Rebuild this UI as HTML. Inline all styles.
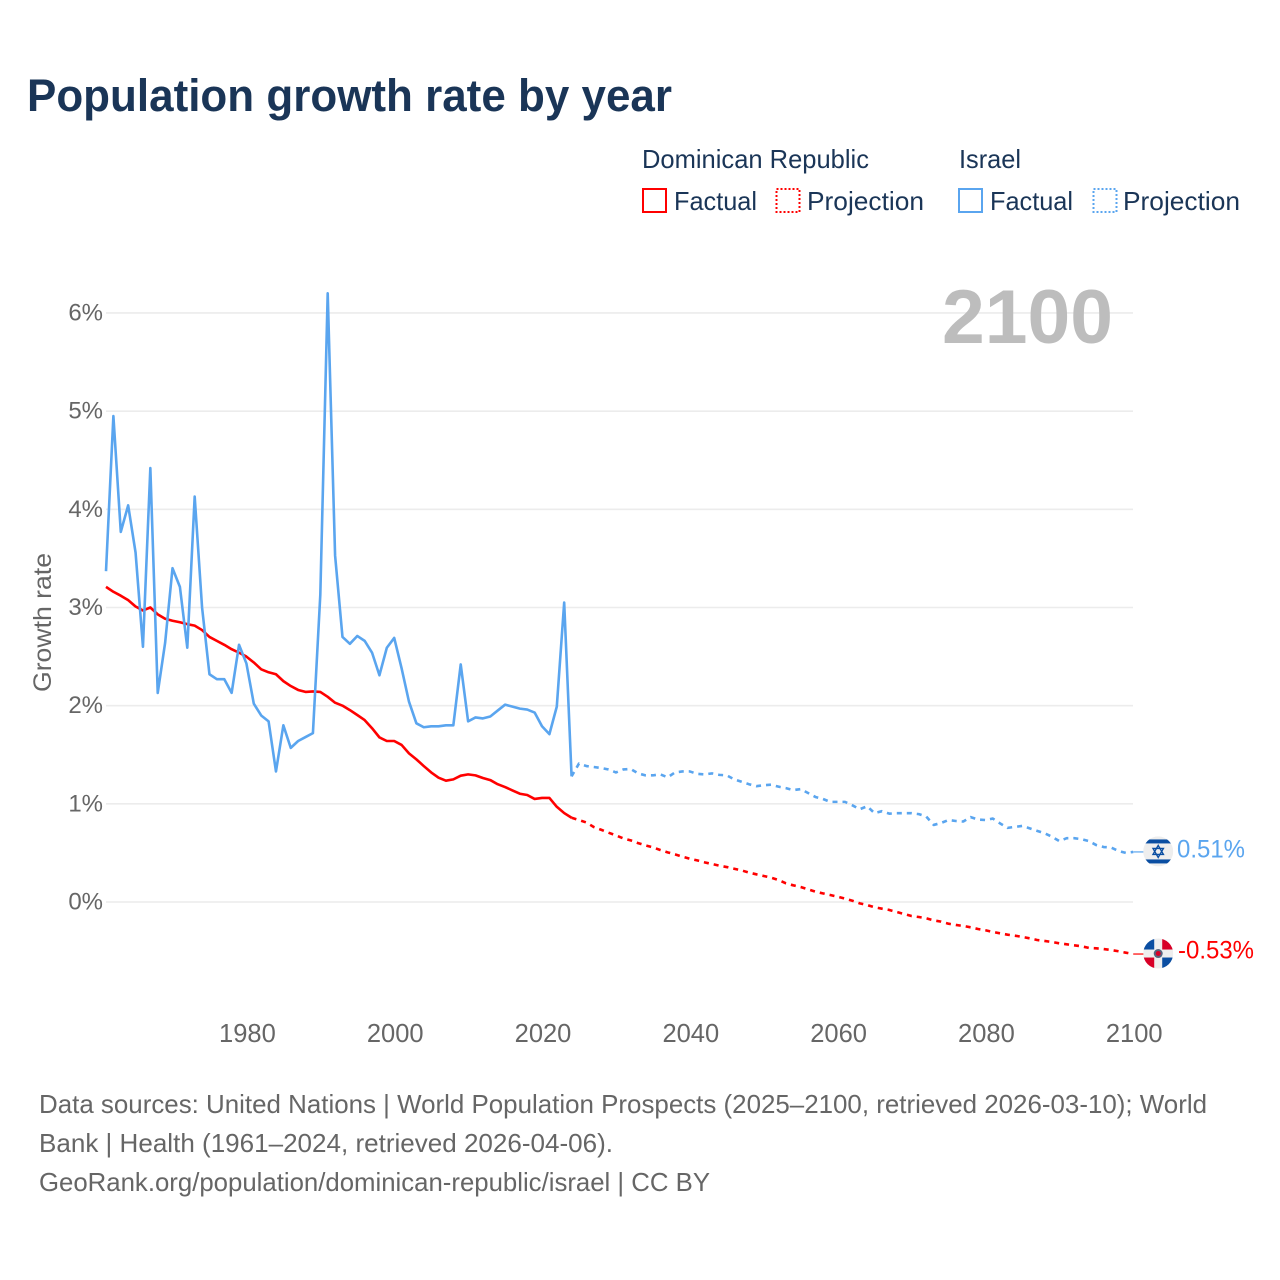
<!DOCTYPE html>
<html lang="en">
<head>
<meta charset="utf-8">
<title>Population growth rate by year</title>
<style>
html,body{margin:0;padding:0;background:#fff;width:1280px;height:1280px;overflow:hidden}
svg{display:block}
text{font-family:"Liberation Sans",sans-serif}
</style>
</head>
<body>
<svg id="chart" xmlns="http://www.w3.org/2000/svg" width="1280" height="1280" viewBox="0 0 1280 1280">
  <rect width="1280" height="1280" fill="#fff"/>
  <text x="27" y="111" font-size="45" font-weight="700" fill="#1a3557" textLength="645" lengthAdjust="spacingAndGlyphs">Population growth rate by year</text>

  <g font-size="26" fill="#1a3557">
    <text x="642" y="168" textLength="227" lengthAdjust="spacingAndGlyphs">Dominican Republic</text>
    <text x="959" y="168" textLength="62" lengthAdjust="spacingAndGlyphs">Israel</text>
    <rect x="643" y="189" width="23" height="23" fill="none" stroke="#ff0000" stroke-width="2"/>
    <text x="674" y="210" textLength="83" lengthAdjust="spacingAndGlyphs">Factual</text>
    <rect x="776.500" y="189" width="23" height="23" fill="none" stroke="#ff0000" stroke-width="2" stroke-dasharray="2 2"/>
    <text x="807" y="210" textLength="117" lengthAdjust="spacingAndGlyphs">Projection</text>
    <rect x="959" y="189" width="23" height="23" fill="none" stroke="#5aa5ef" stroke-width="2"/>
    <text x="990" y="210" textLength="83" lengthAdjust="spacingAndGlyphs">Factual</text>
    <rect x="1093.500" y="189" width="23" height="23" fill="none" stroke="#5aa5ef" stroke-width="2" stroke-dasharray="2 2"/>
    <text x="1123" y="210" textLength="117" lengthAdjust="spacingAndGlyphs">Projection</text>
  </g>

  <g id="grid"></g>
  <g id="yticks"></g>
  <g id="xticks"></g>
  <text transform="translate(51,622.500) rotate(-90)" text-anchor="middle" font-size="25" fill="#666" textLength="139" lengthAdjust="spacingAndGlyphs">Growth rate</text>
  <text x="942" y="343" font-size="76" font-weight="700" fill="#bdbdbd" textLength="171" lengthAdjust="spacingAndGlyphs">2100</text>

  <g id="series"></g>

  <defs>
    <clipPath id="flag-clip"><circle cx="0" cy="0" r="15"/></clipPath>
  </defs>
  <g id="flag-israel">
    <g clip-path="url(#flag-clip)">
      <rect x="-15" y="-15" width="30" height="30" fill="#eeeeee"/>
      <rect x="-15" y="-12" width="30" height="4" fill="#0a4ea2"/>
      <rect x="-15" y="8" width="30" height="4" fill="#0a4ea2"/>
      <polygon points="0,-6 5.200,3 -5.200,3" fill="none" stroke="#0a4ea2" stroke-width="1.400"/>
      <polygon points="0,6 5.200,-3 -5.200,-3" fill="none" stroke="#0a4ea2" stroke-width="1.400"/>
    </g>
  </g>
  <g id="flag-dr">
    <g clip-path="url(#flag-clip)">
      <rect x="-15" y="-15" width="30" height="30" fill="#eeeeee"/>
      <rect x="-15" y="-15" width="11" height="11" fill="#0a4ea2"/>
      <rect x="4" y="-15" width="11" height="11" fill="#d80027"/>
      <rect x="-15" y="4" width="11" height="11" fill="#d80027"/>
      <rect x="4" y="4" width="11" height="11" fill="#0a4ea2"/>
      <circle cx="0" cy="0" r="4.500" fill="#56647e"/>
      <circle cx="0" cy="0" r="2.500" fill="#d80027"/>
    </g>
  </g>
  <g id="end-labels"></g>

  <g font-size="26" fill="#666">
    <text x="39" y="1113" textLength="1168" lengthAdjust="spacingAndGlyphs">Data sources: United Nations | World Population Prospects (2025–2100, retrieved 2026-03-10); World</text>
    <text x="39" y="1152" textLength="574" lengthAdjust="spacingAndGlyphs">Bank | Health (1961–2024, retrieved 2026-04-06).</text>
    <text x="39" y="1191" textLength="671" lengthAdjust="spacingAndGlyphs">GeoRank.org/population/dominican-republic/israel | CC BY</text>
  </g>
</svg>
<script>
const firstFactualYear = 1961;
const firstProjectionYear = 2025;
const xTickYears = [1980, 2000, 2020, 2040, 2060, 2080, 2100];
const yTickValues = [0, 1, 2, 3, 4, 5, 6];

const israelFactual = [3.37,4.95,3.77,4.04,3.56,2.60,4.42,2.13,2.64,3.40,3.21,2.59,4.13,3.00,2.32,2.27,2.27,2.13,2.62,2.43,2.02,1.90,1.84,1.33,1.80,1.57,1.64,1.68,1.72,3.13,6.20,3.53,2.70,2.63,2.71,2.66,2.54,2.31,2.59,2.69,2.38,2.04,1.82,1.78,1.79,1.79,1.80,1.80,2.42,1.84,1.88,1.87,1.89,1.95,2.01,1.99,1.97,1.96,1.93,1.79,1.71,1.99,3.05,1.28];
const israelProjection = [1.41,1.385,1.375,1.365,1.35,1.32,1.35,1.355,1.31,1.29,1.29,1.30,1.27,1.32,1.33,1.33,1.305,1.30,1.31,1.295,1.29,1.25,1.225,1.20,1.18,1.19,1.195,1.175,1.16,1.14,1.15,1.11,1.07,1.05,1.02,1.02,1.02,0.985,0.945,0.975,0.905,0.925,0.90,0.905,0.905,0.905,0.895,0.87,0.785,0.805,0.835,0.825,0.82,0.865,0.84,0.835,0.85,0.80,0.755,0.765,0.775,0.75,0.725,0.70,0.665,0.62,0.65,0.65,0.64,0.62,0.58,0.56,0.555,0.52,0.50,0.51];
const drFactual = [3.21,3.16,3.12,3.075,3.01,2.97,3.00,2.93,2.885,2.865,2.85,2.83,2.815,2.77,2.70,2.66,2.62,2.575,2.54,2.50,2.44,2.37,2.34,2.32,2.25,2.20,2.16,2.14,2.145,2.14,2.09,2.03,2.00,1.955,1.905,1.853,1.77,1.677,1.64,1.64,1.60,1.514,1.453,1.385,1.32,1.266,1.236,1.249,1.287,1.30,1.29,1.263,1.242,1.20,1.171,1.137,1.103,1.09,1.05,1.06,1.06,0.97,0.906,0.858];
const drProjection = [0.835,0.81,0.764,0.736,0.706,0.679,0.648,0.628,0.60,0.577,0.557,0.53,0.506,0.485,0.462,0.441,0.424,0.404,0.387,0.37,0.356,0.339,0.322,0.30,0.282,0.265,0.248,0.224,0.19,0.17,0.153,0.129,0.105,0.088,0.071,0.054,0.034,0.013,-0.014,-0.031,-0.054,-0.068,-0.081,-0.102,-0.122,-0.143,-0.153,-0.166,-0.187,-0.20,-0.221,-0.234,-0.244,-0.258,-0.275,-0.288,-0.305,-0.319,-0.333,-0.343,-0.356,-0.37,-0.387,-0.397,-0.407,-0.421,-0.431,-0.441,-0.451,-0.468,-0.472,-0.479,-0.489,-0.502,-0.516,-0.53];

const SVG_NS = 'http://www.w3.org/2000/svg';
const COLOR_ISRAEL = '#5aa5ef';
const COLOR_DR = '#ff0000';

function xScale(year) { return 106 + (year - 1961) * 7.39; }
function yScale(value) { return 902 - value * 98.17; }

function make(tag, parent, attrs) {
  const el = document.createElementNS(SVG_NS, tag);
  Object.keys(attrs).forEach(function (k) { el.setAttribute(k, attrs[k]); });
  parent.appendChild(el);
  return el;
}

function pathFrom(values, startYear) {
  return values.map(function (v, i) {
    return (i ? 'L' : 'M') + xScale(startYear + i).toFixed(2) + ' ' + yScale(v).toFixed(2);
  }).join(' ');
}

const gridG = document.getElementById('grid');
const yTicksG = document.getElementById('yticks');
const xTicksG = document.getElementById('xticks');
const seriesG = document.getElementById('series');
const labelsG = document.getElementById('end-labels');

yTickValues.forEach(function (v) {
  const line = make('line', gridG, { x1: 106, x2: 1133, y1: yScale(v), y2: yScale(v), stroke: '#ececec', 'stroke-width': 1.6 });
  
  
  const t = make('text', yTicksG, { x: 103, y: yScale(v) + 7.500, 'text-anchor': 'end', 'font-size': 24, fill: '#666' });
  t.textContent = v + '%';
  
  
});

xTickYears.forEach(function (y) {
  const t = make('text', xTicksG, { x: xScale(y) + 1, y: 1042, 'text-anchor': 'middle', 'font-size': 25.500, fill: '#666' });
  t.textContent = String(y);
  
  
});

function drawSeries(slug, color, factual, projection) {
  const solid = make('path', seriesG, { d: pathFrom(factual, firstFactualYear), fill: 'none', stroke: color, 'stroke-width': 2.6, 'stroke-linejoin': 'round' });
  
  
  const projected = [factual[factual.length - 1]].concat(projection);
  const dashed = make('path', seriesG, { d: pathFrom(projected, firstProjectionYear - 1), fill: 'none', stroke: color, 'stroke-width': 2.6, 'stroke-dasharray': '5 5', 'stroke-linejoin': 'round' });
  
  
  const last = projection[projection.length - 1];
  const lastYear = firstProjectionYear + projection.length - 1;
  const connector = make('line', seriesG, { x1: xScale(lastYear), x2: xScale(lastYear) + 11, y1: yScale(last), y2: yScale(last), stroke: color, 'stroke-width': 1.200 });
  
  
  return { x: xScale(lastYear) + 25, y: yScale(last), value: last };
}

const endDr = drawSeries('dominican-republic', COLOR_DR, drFactual, drProjection);
const endIsrael = drawSeries('israel', COLOR_ISRAEL, israelFactual, israelProjection);

document.getElementById('flag-israel').setAttribute('transform', 'translate(' + endIsrael.x + ',' + (endIsrael.y - 0.500) + ')');
document.getElementById('flag-dr').setAttribute('transform', 'translate(' + endDr.x + ',' + (endDr.y - 0.500) + ')');

const israelLabel = make('text', labelsG, { x: 1177, y: endIsrael.y + 5.500, 'font-size': 25, fill: COLOR_ISRAEL, textLength: 68, lengthAdjust: 'spacingAndGlyphs' });
israelLabel.textContent = endIsrael.value.toFixed(2) + '%';



const drLabel = make('text', labelsG, { x: 1178, y: endDr.y + 4.500, 'font-size': 25, fill: COLOR_DR, textLength: 76, lengthAdjust: 'spacingAndGlyphs' });
drLabel.textContent = endDr.value.toFixed(2) + '%';


</script>
</body>
</html>
